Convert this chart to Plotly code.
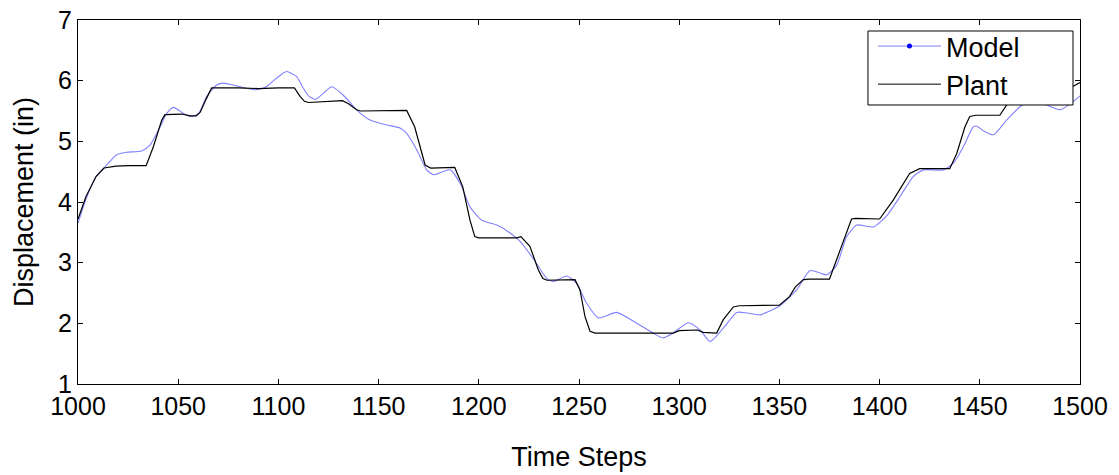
import plotly.graph_objects as go

# ---- data ----
t_plant = [1000, 1004, 1009, 1013, 1019, 1025, 1034, 1037.6, 1041.8, 1043.4, 1051.7, 1056, 1059, 1061,
           1064, 1066.7, 1080, 1090, 1100, 1108, 1110.8, 1113, 1115, 1122, 1132, 1135, 1139, 1141,
           1164, 1168, 1171.5, 1173.2, 1176, 1188, 1192, 1195.6, 1198, 1200, 1219, 1221, 1225.5,
           1229.7, 1232, 1234, 1248, 1250.5, 1253, 1255.5, 1258, 1297, 1300, 1309, 1312, 1318.7,
           1322, 1327, 1330, 1350, 1355, 1358, 1362, 1365, 1375, 1380, 1386, 1388, 1400, 1406.8,
           1415, 1420, 1435, 1438.5, 1442.6, 1445, 1448, 1460, 1465, 1469, 1472, 1495, 1500]
plant = [3.72, 4.09, 4.42, 4.56, 4.59, 4.60, 4.60, 4.91, 5.35, 5.44, 5.45, 5.42, 5.42, 5.48,
         5.70, 5.88, 5.88, 5.87, 5.88, 5.88, 5.74, 5.66, 5.64, 5.65, 5.67, 5.62, 5.52, 5.50,
         5.51, 5.24, 4.80, 4.61, 4.56, 4.57, 4.25, 3.70, 3.43, 3.41, 3.41, 3.43, 3.27,
         2.88, 2.74, 2.71, 2.72, 2.55, 2.11, 1.87, 1.84, 1.84, 1.88, 1.89, 1.85, 1.84,
         2.06, 2.27, 2.29, 2.30, 2.44, 2.60, 2.72, 2.73, 2.73, 3.17, 3.72, 3.73, 3.72, 4.03,
         4.47, 4.55, 4.55, 4.80, 5.24, 5.41, 5.43, 5.43, 5.68, 5.85, 5.88, 5.88, 5.97]

t_model = [1000, 1004, 1009, 1013.5, 1019.3, 1024.3, 1031.8, 1036, 1041, 1044.3, 1047.6, 1052.6,
           1056, 1060, 1064.2, 1069.2, 1072.5, 1080.8, 1089, 1094, 1099, 1104, 1109, 1112, 1115,
           1118.3, 1122.4, 1126.5, 1132.4, 1139, 1145.7, 1154, 1160.7, 1164, 1169, 1174, 1177.4,
           1182, 1185.7, 1190.7, 1195.6, 1201.5, 1209, 1215.6, 1220.6, 1227.3, 1233.9, 1237.2,
           1243.9, 1248.8, 1253.8, 1259.7, 1268.8, 1278.8, 1287, 1292, 1297, 1304.5, 1310.4,
           1315.4, 1322, 1328.7, 1334, 1340.3, 1345, 1350.3, 1358.6, 1365.3, 1370.3, 1373.6,
           1378.6, 1383.6, 1388.6, 1396.9, 1403.5, 1410.2, 1416.8, 1421.8, 1431.8, 1436.8,
           1441.8, 1446.8, 1448.5, 1452, 1456.8, 1463.4, 1470, 1476, 1483.4, 1490.1, 1497.5, 1500]
model = [3.65, 4.05, 4.42, 4.58, 4.78, 4.82, 4.84, 4.94, 5.24, 5.46, 5.56, 5.46,
         5.41, 5.45, 5.74, 5.93, 5.96, 5.90, 5.85, 5.90, 6.04, 6.15, 6.07, 5.90, 5.75,
         5.69, 5.79, 5.90, 5.76, 5.52, 5.35, 5.27, 5.22, 5.13, 4.86, 4.53, 4.45,
         4.50, 4.53, 4.31, 3.92, 3.70, 3.62, 3.49, 3.35, 3.06, 2.74, 2.69,
         2.78, 2.66, 2.33, 2.09, 2.18, 2.00, 1.84, 1.76, 1.84, 2.01, 1.89,
         1.70, 1.92, 2.18, 2.17, 2.14, 2.20, 2.29, 2.55, 2.87, 2.83, 2.80,
         2.96, 3.43, 3.62, 3.59, 3.77, 4.09, 4.42, 4.53, 4.53, 4.64,
         4.91, 5.24, 5.25, 5.17, 5.11, 5.35, 5.57, 5.68, 5.60, 5.52, 5.68, 5.75]

x_ticks = [1000, 1050, 1100, 1150, 1200, 1250, 1300, 1350, 1400, 1450, 1500]
y_ticks = [1, 2, 3, 4, 5, 6, 7]

FONT = "Liberation Sans, Arial, sans-serif"
TICK_FS = 25
TITLE_FS = 27
MODEL_COLOR = "#8080ff"

fig = go.Figure()
fig.add_trace(go.Scatter(x=t_model, y=model, mode="lines", showlegend=False,
                         line=dict(color=MODEL_COLOR, width=1.1, shape="spline", smoothing=0.6)))
fig.add_trace(go.Scatter(x=t_plant, y=plant, mode="lines", showlegend=False,
                         line=dict(color="black", width=1.2)))
# legend entries
fig.add_trace(go.Scatter(x=[None], y=[None], mode="lines+markers", name="Model",
                         line=dict(color=MODEL_COLOR, width=1),
                         marker=dict(color="blue", size=5)))
fig.add_trace(go.Scatter(x=[None], y=[None], mode="lines", name="Plant",
                         line=dict(color="black", width=1)))

axis_common = dict(showgrid=False, zeroline=False, showline=True, linecolor="black",
                   linewidth=1, mirror="ticks", ticks="inside", ticklen=5,
                   tickcolor="black", automargin=False, ticklabeloverflow="allow",
                   tickfont=dict(family=FONT, size=TICK_FS, color="black"))

# legend frame (MATLAB style, wider than the entries)
fig.add_shape(type="rect", xref="paper", yref="paper",
              x0=0.7884, x1=0.993, y0=0.7665, y1=0.9698,
              line=dict(color="black", width=1), fillcolor="white", layer="above")

fig.update_layout(
    width=1119, height=475, autosize=False,
    margin=dict(l=78, r=39, t=20, b=91),
    paper_bgcolor="white", plot_bgcolor="white",
    font=dict(family=FONT, size=TITLE_FS, color="black"),
    xaxis=dict(range=[1000, 1500], tickvals=x_ticks,
               title=dict(text="Time Steps", font=dict(family=FONT, size=TITLE_FS), standoff=28),
               **axis_common),
    yaxis=dict(range=[1, 7], tickvals=y_ticks,
               title=dict(text="Displacement (in)", font=dict(family=FONT, size=TITLE_FS), standoff=16),
               **axis_common),
    legend=dict(x=0.7934, xanchor="left", y=0.9945, yanchor="top",
                bgcolor="rgba(0,0,0,0)", borderwidth=0,
                font=dict(family=FONT, size=TITLE_FS, color="black"),
                itemwidth=63, tracegroupgap=0),
)

# remove the browser's default 8px page margin so the figure fills the window exactly
fig.write_html("out.html", config={"displayModeBar": False},
               post_script="document.body.style.margin='0px';")
